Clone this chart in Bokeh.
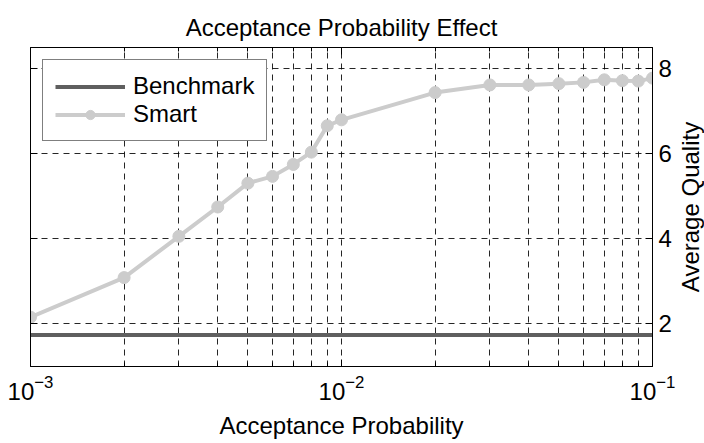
import math
from bokeh.plotting import figure
from bokeh.layouts import row
from bokeh.models import (Range1d, FixedTicker, LogAxis, LinearAxis, Legend, LegendItem,
                          CustomJSTickFormatter)
from bokeh.core.properties import value
from bokeh.embed import file_html
from bokeh.resources import INLINE

# ---- data ----
acceptance_probability = [0.001, 0.002, 0.003, 0.004, 0.005, 0.006, 0.007, 0.008, 0.009,
                          0.01, 0.02, 0.03, 0.04, 0.05, 0.06, 0.07, 0.08, 0.09, 0.1]
smart_quality = [2.16, 3.09, 4.06, 4.75, 5.31, 5.47, 5.75, 6.04, 6.66,
                 6.80, 7.44, 7.62, 7.62, 7.65, 7.68, 7.74, 7.72, 7.71, 7.78]
benchmark_x = [0.001, 0.1]
benchmark_quality = [1.74, 1.74]

x_major_ticks = [0.001, 0.01, 0.1]
x_minor_ticks = [0.002, 0.003, 0.004, 0.005, 0.006, 0.007, 0.008, 0.009,
                 0.02, 0.03, 0.04, 0.05, 0.06, 0.07, 0.08, 0.09]
y_ticks = [2, 4, 6, 8]
y_axis_title = "Average Quality"

FONT = "Liberation Sans"
FS = "24px"
LABEL_W = 28

p = figure(width=704 - LABEL_W, height=443, x_axis_type="log", y_axis_location="right",
           x_range=Range1d(0.001, 0.1), y_range=Range1d(1.0, 8.5),
           output_backend="svg", toolbar_location=None,
           title="Acceptance Probability Effect",
           min_border_left=30, min_border_right=52 - LABEL_W, min_border_top=47,
           min_border_bottom=77)

p.background_fill_color = "white"
p.border_fill_color = "white"
p.outline_line_color = "black"
p.outline_line_width = 1

p.title.align = "center"
p.title.text_font = FONT
p.title.text_font_size = FS
p.title.text_font_style = "normal"
p.title.text_color = "black"
p.title.standoff = 14

# grids
p.xgrid.ticker = FixedTicker(ticks=x_major_ticks + x_minor_ticks)
p.ygrid.ticker = FixedTicker(ticks=y_ticks)
for g in (p.xgrid, p.ygrid):
    g.grid_line_color = "black"
    g.grid_line_dash = "6 5"
    g.grid_line_width = 1
    g.grid_line_alpha = 0.85


def style_axis(ax):
    ax.axis_line_color = "black"
    ax.major_tick_line_color = "black"
    ax.minor_tick_line_color = "black"
    ax.major_tick_in = 7
    ax.major_tick_out = 0
    ax.minor_tick_in = 4
    ax.minor_tick_out = 0
    ax.major_label_text_font = FONT
    ax.major_label_text_color = "black"
    ax.major_label_text_font_size = FS


# bottom x axis
xb = p.xaxis[0]
xb.ticker = FixedTicker(ticks=x_major_ticks, minor_ticks=x_minor_ticks)
style_axis(xb)
xb.major_label_standoff = 8
xb.axis_label = "Acceptance Probability"
xb.axis_label_text_font = FONT
xb.axis_label_text_font_size = FS
xb.axis_label_text_font_style = "normal"
xb.axis_label_text_color = "black"
xb.axis_label_standoff = 9

# right y axis (its title is drawn in a narrow strip so it reads bottom-to-top)
yr = p.yaxis[0]
yr.ticker = FixedTicker(ticks=y_ticks)
style_axis(yr)
yr.minor_tick_in = 0
yr.major_label_standoff = 6

# top x axis (ticks only)
xt = LogAxis(ticker=FixedTicker(ticks=x_major_ticks, minor_ticks=x_minor_ticks),
             formatter=CustomJSTickFormatter(code="return ' ';"))
style_axis(xt)
xt.major_label_text_font_size = "1px"
xt.major_label_text_color = None
xt.major_label_standoff = 0
p.add_layout(xt, "above")

# left y axis (ticks only)
yl = LinearAxis(ticker=FixedTicker(ticks=y_ticks),
                formatter=CustomJSTickFormatter(code="return ' ';"))
style_axis(yl)
yl.minor_tick_in = 0
yl.major_label_text_font_size = "1px"
yl.major_label_text_color = None
yl.major_label_standoff = 0
p.add_layout(yl, "left")

# data
bench = p.line(benchmark_x, benchmark_quality, line_color="#5f5f5f", line_width=4)
smart_line = p.line(acceptance_probability, smart_quality, line_color="#cccccc", line_width=4)
smart_pts = p.scatter(acceptance_probability, smart_quality, size=12,
                      fill_color="#cccccc", line_color="#cccccc")

legend = Legend(items=[LegendItem(label="Benchmark", renderers=[bench]),
                       LegendItem(label="Smart", renderers=[smart_line, smart_pts])],
                location="top_left")
legend.margin = 12
legend.padding = 12
legend.spacing = 0
legend.glyph_width = 70
legend.label_height = 23
legend.glyph_height = 23
legend.label_standoff = 8
legend.label_text_font = FONT
legend.label_text_font_size = FS
legend.label_text_color = "black"
legend.border_line_color = "black"
legend.border_line_width = 1
legend.background_fill_color = "white"
legend.background_fill_alpha = 1.0
p.add_layout(legend)

# narrow strip holding the rotated y-axis title
s = figure(width=LABEL_W, height=443, x_axis_type=None, y_axis_type=None,
           x_range=Range1d(-1, 1), y_range=Range1d(-1, 1),
           output_backend="svg", toolbar_location=None,
           min_border_left=0, min_border_right=0, min_border_top=47, min_border_bottom=77)
s.outline_line_color = None
s.background_fill_color = "white"
s.border_fill_color = "white"
s.grid.visible = False
s.text(x=[0], y=[0], text=[y_axis_title], angle=math.pi / 2,
       text_align="center", text_baseline="middle",
       text_font=value(FONT), text_font_size=FS, text_color="black")

layout = row(p, s, spacing=0)

open("out.html", "w").write(file_html(layout, INLINE))
